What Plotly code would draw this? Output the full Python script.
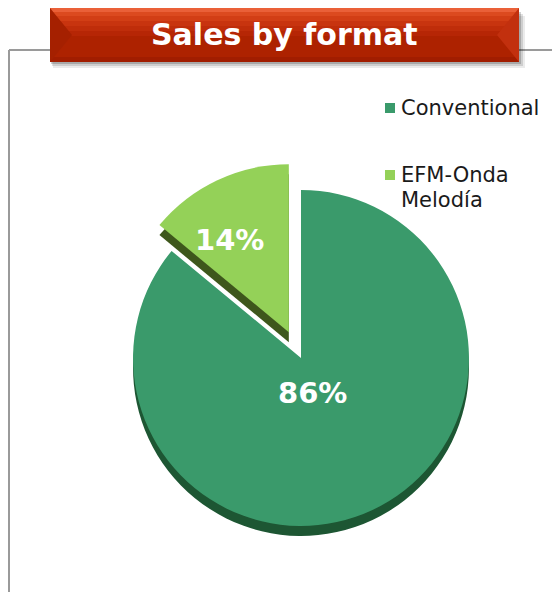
import plotly.graph_objects as go

# ---- data ----
labels = ["Conventional", "EFM-Onda Melodía"]
values = [86, 14]
colors = ["#3a9a6b", "#94d158"]
depth_colors = ["#1d5633", "#3e571c"]
pulls = [0, 0.17]
title_text = "Sales by format"

W, H = 552, 592


def px(x):
    return x / W


def py(y):
    return 1 - y / H


# pie geometry (pixels)
cx, cy, box = 301, 358, 393
depth = 10

fig = go.Figure()

# 3D depth (shadow copy)
fig.add_trace(go.Pie(
    labels=labels, values=values, pull=pulls, sort=False,
    direction="clockwise", rotation=0,
    marker=dict(colors=depth_colors, line=dict(width=0)),
    textinfo="none", hoverinfo="skip", showlegend=False,
    domain=dict(x=[px(cx - box / 2), px(cx + box / 2)],
                y=[py(cy + depth + box / 2), py(cy + depth - box / 2)]),
))

fig.add_trace(go.Pie(
    labels=labels, values=values, pull=pulls, sort=False,
    direction="clockwise", rotation=0,
    marker=dict(colors=colors, line=dict(width=0)),
    textinfo="none",
    showlegend=False,
    domain=dict(x=[px(cx - box / 2), px(cx + box / 2)],
                y=[py(cy + box / 2), py(cy - box / 2)]),
))

shapes = []
# frame lines
shapes.append(dict(type="line", xref="paper", yref="paper",
                   x0=px(9), x1=px(552), y0=py(50), y1=py(50),
                   line=dict(color="#9a9a9a", width=2)))
shapes.append(dict(type="line", xref="paper", yref="paper",
                   x0=px(9), x1=px(9), y0=py(50), y1=py(592),
                   line=dict(color="#9a9a9a", width=2)))

# banner shadow
for off, op in [(6, 0.08), (4, 0.12), (2, 0.18)]:
    shapes.append(dict(type="rect", xref="paper", yref="paper",
                       x0=px(50 + off / 2), x1=px(519 + off), y0=py(62 + off), y1=py(10 + off),
                       fillcolor=f"rgba(0,0,0,{op})", line=dict(width=0)))

bx0, bx1, by0, by1 = 50, 519, 8, 62
# banner body
shapes.append(dict(type="rect", xref="paper", yref="paper",
                   x0=px(bx0), x1=px(bx1), y0=py(by1), y1=py(by0),
                   fillcolor="#ad2200", line=dict(width=0)))
# upper gradient bands
bands = [(8, 36, "#b62605"), (8, 31, "#bf2d0a"), (8, 26, "#c8340f"), (8, 21, "#d23e15"),
         (8, 16, "#dc4a1f"), (8, 12, "#ea6038")]
for y0, y1, c in bands:
    shapes.append(dict(type="rect", xref="paper", yref="paper",
                       x0=px(bx0), x1=px(bx1), y0=py(y1), y1=py(y0),
                       fillcolor=c, line=dict(width=0)))
# bottom bevel
shapes.append(dict(type="rect", xref="paper", yref="paper",
                   x0=px(bx0), x1=px(bx1), y0=py(by1), y1=py(57),
                   fillcolor="#a11d00", line=dict(width=0)))


def path(pts):
    s = "M " + " L ".join(f"{px(x)},{py(y)}" for x, y in pts) + " Z"
    return s


# left and right bevels
shapes.append(dict(type="path", xref="paper", yref="paper",
                   path=path([(bx0, by0), (bx0 + 22, 35), (bx0, by1)]),
                   fillcolor="#a52000", line=dict(width=0)))
shapes.append(dict(type="path", xref="paper", yref="paper",
                   path=path([(bx1, by0), (bx1 - 22, 35), (bx1, by1)]),
                   fillcolor="#c2300e", line=dict(width=0)))

# legend markers
shapes.append(dict(type="rect", xref="paper", yref="paper",
                   x0=px(385), x1=px(395), y0=py(113), y1=py(103),
                   fillcolor=colors[0], line=dict(width=0)))
shapes.append(dict(type="rect", xref="paper", yref="paper",
                   x0=px(385), x1=px(395), y0=py(180), y1=py(170),
                   fillcolor=colors[1], line=dict(width=0)))

annotations = [
    dict(text=f"<b>{title_text}</b>", x=px(284), y=py(35), xref="paper", yref="paper",
         showarrow=False, xanchor="center", yanchor="middle",
         font=dict(family="DejaVu Sans", size=30, color="white")),
    dict(text=labels[0], x=px(399), y=py(108), xref="paper", yref="paper",
         showarrow=False, xanchor="left", yanchor="middle",
         font=dict(family="DejaVu Sans", size=21, color="#1a1a1a")),
]
efm_lines = labels[1].split(" ")
for i, line in enumerate(efm_lines):
    annotations.append(dict(text=line, x=px(399), y=py(175 + 25 * i), xref="paper", yref="paper",
                            showarrow=False, xanchor="left", yanchor="middle",
                            font=dict(family="DejaVu Sans", size=21, color="#1a1a1a")))

# slice percentage labels
total = sum(values)
label_pos = [(312, 393), (229, 240)]
for v, (lx, ly) in zip(values, label_pos):
    annotations.append(dict(text=f"<b>{round(100 * v / total)}%</b>", x=px(lx), y=py(ly),
                            xref="paper", yref="paper", showarrow=False,
                            xanchor="center", yanchor="middle",
                            font=dict(family="DejaVu Sans", size=29, color="white")))

fig.update_layout(
    width=W, height=H,
    margin=dict(l=0, r=0, t=0, b=0),
    paper_bgcolor="white", plot_bgcolor="white",
    showlegend=False,
    shapes=shapes,
    annotations=annotations,
)

fig.write_html("out.html")
